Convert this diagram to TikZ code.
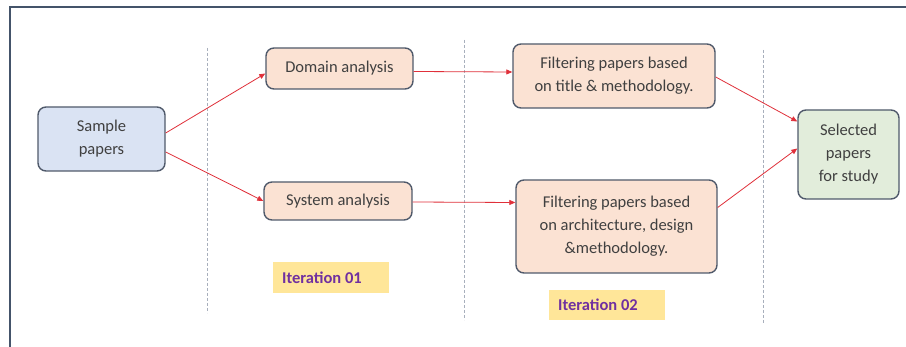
\documentclass[tikz,border=0pt]{standalone}
\usepackage{fontspec}
\setmainfont{Carlito}
\usetikzlibrary{arrows.meta}
\definecolor{frame}{HTML}{44546A}
\definecolor{boxline}{HTML}{505A6B}
\definecolor{bluefill}{HTML}{DAE3F3}
\definecolor{peach}{HTML}{FBE2D3}
\definecolor{greenfill}{HTML}{E2EDDB}
\definecolor{arrowred}{HTML}{E0303A}
\definecolor{txt}{HTML}{404040}
\definecolor{iterfill}{HTML}{FFE699}
\definecolor{itertext}{HTML}{7030A0}
\definecolor{dashgray}{HTML}{A8AFBC}
\tikzset{
  procbox/.style={draw=boxline, line width=1.4pt, rounded corners=8pt, text=txt,
    font=\fontsize{16.5}{23}\selectfont, align=center, inner sep=2pt},
  iterbox/.style={fill=iterfill, text=itertext, font=\fontsize{16.5}{20}\selectfont\bfseries,
    inner sep=0pt, anchor=center},
  flow/.style={draw=arrowred, line width=0.8pt, -{Triangle[length=6pt,width=5pt]}},
  sep/.style={draw=dashgray, line width=0.8pt, dash pattern=on 3pt off 2pt},
}
\begin{document}
\begin{tikzpicture}[x=1pt,y=-1pt]
\useasboundingbox (0,0) rectangle (906,347);
\fill[white] (0,0) rectangle (906,347);
\draw[frame, line width=2pt] (906,7) -- (10,7) -- (10,347);
% separators
\draw[sep] (207,48) -- (207,313);
\draw[sep] (464,40) -- (464,320);
\draw[sep] (763,50) -- (763,323);
% nodes
\node[procbox, fill=bluefill, minimum width=127pt, minimum height=64pt] (s) at (101.5,139) {Sample\\papers};
\node[procbox, fill=peach, minimum width=147pt, minimum height=41pt] (d) at (339.5,68.5) {Domain analysis};
\node[procbox, fill=peach, minimum width=148pt, minimum height=38pt] (y) at (338,201) {System analysis};
\node[procbox, fill=peach, minimum width=202pt, minimum height=64pt] (f1) at (614,76) {Filtering papers based\\on title \& methodology.};
\node[procbox, fill=peach, minimum width=201pt, minimum height=93pt] (f2) at (616.5,226.5) {Filtering papers based\\on architecture, design\\\&methodology.};
\node[procbox, fill=greenfill, minimum width=101pt, minimum height=89pt] (g) at (848.5,154.5) {Selected\\papers\\for study};
\node[iterbox, minimum width=116pt, minimum height=31pt] (i1) at (331,277.5) {Iteration 01\hspace*{18pt}};
\node[iterbox, minimum width=116pt, minimum height=30pt] (i2) at (607,305) {Iteration 02\hspace*{18pt}};
% connectors
\draw[flow] ([yshift=6pt]s.east) -- ([yshift=-5pt]d.west);
\draw[flow] ([yshift=-13pt]s.east) -- (y.west);
\draw[flow] ([yshift=-3pt]d.east) -- ([yshift=4pt]f1.west);
\draw[flow] ([yshift=-1pt]y.east) -- ([yshift=24pt]f2.west);
\draw[flow] ([yshift=-1pt]f1.east) -- ([yshift=33pt]g.west);
\draw[flow] ([yshift=19pt]f2.east) -- ([yshift=6pt]g.west);
\end{tikzpicture}
\end{document}
